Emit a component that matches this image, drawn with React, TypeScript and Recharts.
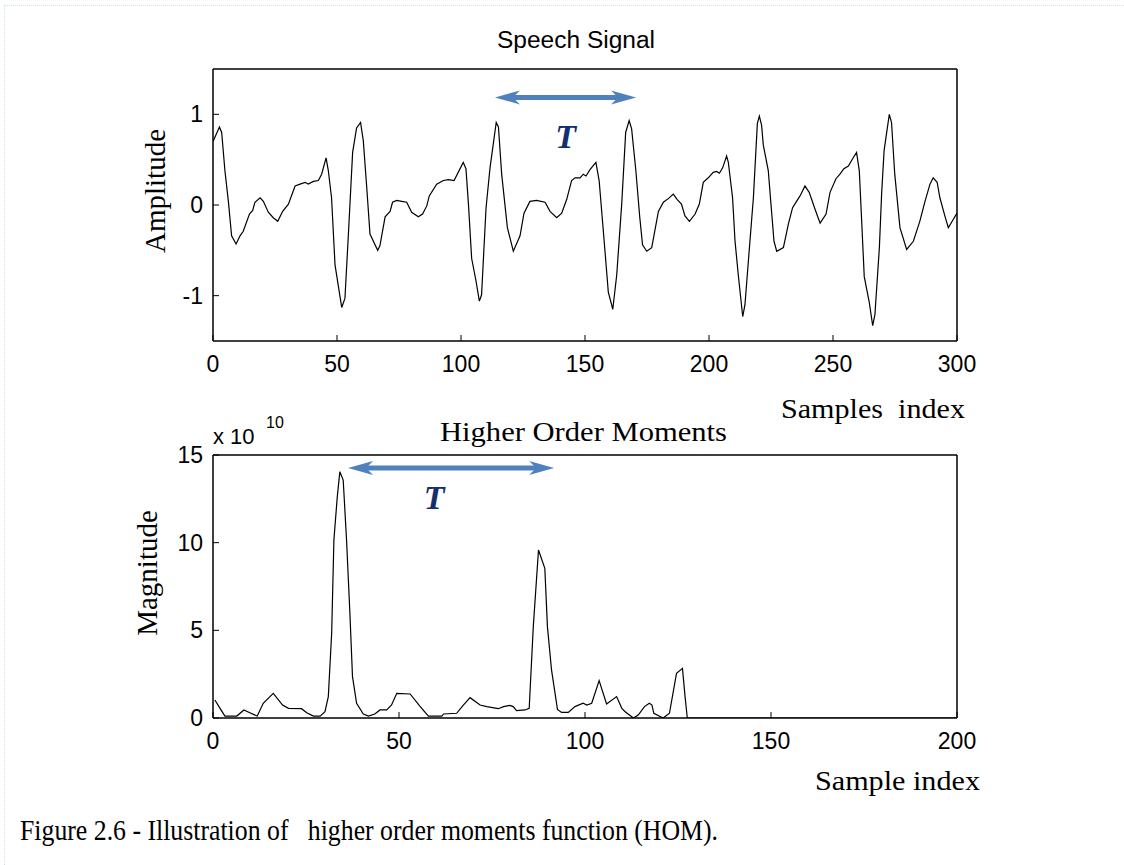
import { LineChart, Line, XAxis, YAxis, ReferenceLine } from 'recharts'

// speech waveform: sample index -> amplitude
const SPEECH_IDX = [
  0, 2.6, 3.5, 4.8, 6.2, 7.5, 9.3, 10.9, 12.2, 14.7, 16, 16.9, 19, 20.3, 22.3, 24.3, 26.1, 28.1, 30.4, 33.1,
  35.1, 37.1, 38.4, 40.5, 42.5, 43.8, 45.6, 46.5, 47.8, 49.2, 51.9, 53.2, 54.6, 56.3, 57.9, 59.5, 60.6, 62, 63.3,
  66.4, 67.3, 69.4, 71.4, 72.4, 74.1, 76.1, 78.1, 80.1, 82.8, 84.5, 86.2, 87.2, 90.2, 92.9, 94.9, 97.2, 100.9,
  102, 103, 104.3, 106, 107.4, 108.3, 110.1, 111.7, 114.2, 115.1, 116.4, 118.7, 121.1, 123.8, 125.4, 127.8,
  130.5, 133.9, 135.9, 138.6, 140.6, 142.6, 144.6, 146, 148, 149.3, 150.4, 152, 154.4, 155.7, 157.4, 159.4,
  161.2, 162.8, 164.8, 166.4, 167.8, 168.8, 170.5, 172.1, 173.2, 174.9, 176.9, 179.6, 181.6, 183.6, 185.6,
  187.2, 188.9, 190.3, 192.1, 194.4, 196.1, 197.7, 199.7, 201.7, 203.1, 204.2, 205.5, 207.1, 207.8, 209.5,
  210.5, 211.8, 213.6, 214.5, 216.3, 217.9, 219.5, 220.3, 221.2, 221.9, 223.9, 224.9, 226.2, 227.3, 230, 232,
  233.7, 235.3, 236.7, 238.7, 240.4, 242.8, 244.8, 247.2, 248.8, 251.2, 252.8, 254.4, 256.2, 257.9, 259.5,
  260.6, 261.5, 262.6, 264.6, 266, 266.9, 268.7, 269.6, 270.6, 272.7, 273.6, 274.9, 277, 279.7, 282.4, 285,
  287.1, 289.1, 290.4, 292, 293.1, 295.1, 296.5, 297.4, 300,
]
const SPEECH_AMP = [
  0.7, 0.86, 0.8, 0.38, 0.04, -0.34, -0.43, -0.34, -0.29, -0.1, -0.06, 0.03, 0.08, 0.04, -0.08, -0.14, -0.18, -0.07, 0.01, 0.21,
  0.23, 0.25, 0.23, 0.26, 0.27, 0.34, 0.52, 0.38, 0.08, -0.66, -1.13, -1.03, -0.32, 0.58, 0.85, 0.91, 0.71, 0.19, -0.32,
  -0.5, -0.45, -0.13, -0.07, 0.03, 0.05, 0.04, 0.03, -0.08, -0.13, -0.1, -0.01, 0.1, 0.23, 0.27, 0.28, 0.27, 0.47,
  0.4, 0.01, -0.59, -0.83, -1.06, -0.99, -0.03, 0.41, 0.91, 0.86, 0.34, -0.25, -0.51, -0.34, -0.09, 0.04,
  0.05, 0.03, -0.07, -0.14, -0.09, 0.06, 0.27, 0.3, 0.3, 0.34, 0.32, 0.39, 0.47, 0.27, -0.29, -0.96,
  -1.15, -0.77, 0.01, 0.8, 0.93, 0.84, 0.38, -0.14, -0.44, -0.51, -0.47, -0.07, 0.03, 0.07, 0.12,
  0.06, 0.01, -0.12, -0.18, -0.1, 0.01, 0.25, 0.3, 0.36, 0.37, 0.35, 0.41, 0.54, 0.47, 0.08,
  -0.4, -0.77, -1.23, -1.1, -0.47, 0.08, 0.9, 0.98, 0.88, 0.66, 0.38, 0.04, -0.4, -0.51, -0.47, -0.21,
  -0.03, 0.04, 0.1, 0.21, 0.14, -0.05, -0.2, -0.1, 0.14, 0.29, 0.34, 0.4, 0.43, 0.51, 0.58,
  0.38, -0.14, -0.79, -1.07, -1.33, -1.21, -0.47, 0.12, 0.6, 1.0, 0.91, 0.34, -0.25, -0.49, -0.4, -0.18,
  0.04, 0.23, 0.3, 0.25, 0.08, -0.12, -0.25, -0.21, -0.09,
]

// higher order moments, magnitude in units of 1e10
const HOM_IDX = [
  0.5, 1.9, 3.2, 6.4, 8.3, 9.9, 11.9, 13.5, 16.2, 18.7, 20.3, 23.8, 25.2, 27, 28.8, 30.1, 31, 31.9, 32.5, 33.4,
  34.1, 35, 35.9, 36.8, 37.5, 38.6, 40.4, 41.8, 43.5, 44.9, 46.7, 48, 49.4, 53, 55.6, 57.9, 61.5, 62, 65.5,
  67.3, 69.1, 71.8, 73.6, 76.7, 78.1, 79.8, 80.7, 81.6, 83.9, 85, 86.1, 87.5, 89.2, 89.9, 91, 92.6, 93.7,
  95.5, 97.3, 99.5, 100.5, 101.8, 103.8, 105.8, 108.5, 109.9, 110.8, 113, 114.3, 116, 117.3, 118, 118.5,
  121, 122.7, 124.6, 126.2, 126.9, 127.5, 200,
]
const HOM_MAG = [
  1.03, 0.55, 0.11, 0.11, 0.46, 0.3, 0.11, 0.84, 1.41, 0.74, 0.55, 0.53, 0.3, 0.11, 0.11, 0.36, 1.22, 4.83, 10.15, 12.6,
  14.05, 13.57, 10.15, 5.97, 2.36, 0.84, 0.23, 0.11, 0.23, 0.46, 0.46, 0.74, 1.41, 1.37, 0.68, 0.11, 0.11, 0.23, 0.27,
  0.74, 1.16, 0.74, 0.65, 0.53, 0.65, 0.72, 0.65, 0.42, 0.46, 0.55, 5.21, 9.58, 8.54, 5.21, 2.74, 0.49, 0.32,
  0.32, 0.65, 0.84, 0.74, 0.84, 2.13, 0.8, 1.22, 0.55, 0.36, 0, 0.17, 0.65, 0.84, 0.74, 0.27,
  0, 0.27, 2.55, 2.83, 1.22, 0, 0,
]

const SPEECH_X_TICKS = [0, 50, 100, 150, 200, 250, 300]
const SPEECH_Y_TICKS = [-1, 0, 1]
const HOM_X_TICKS = [0, 50, 100, 150, 200]
const HOM_Y_TICKS = [0, 5, 10, 15]

// pitch period markers: [start, end] sample and height on the value axis
const SPEECH_PERIOD = [113.7, 170.6]
const SPEECH_PERIOD_Y = 1.186
const HOM_PERIOD = [36.3, 91.7]
const HOM_PERIOD_Y = 14.26

const speechData = SPEECH_IDX.map((x, i) => ({ x, y: SPEECH_AMP[i] }))
const homData = HOM_IDX.map((x, i) => ({ x, y: HOM_MAG[i] }))

const SANS = '"Liberation Sans", Arial, sans-serif'
const SERIF = '"Liberation Serif", "Times New Roman", serif'
const ARROW = '#4f81bd'
const NAVY = '#12306e'

const tickStyle = { fill: '#000', fontSize: 23, fontFamily: SANS }
const frame = { stroke: '#000', strokeWidth: 1.5 }
const tickLine = { stroke: '#000', strokeWidth: 1 }

function PeriodArrow(props: any) {
  const { x1, x2, y1, dx, dy } = props
  const y = y1
  const len = 25
  const half = 7
  const notch = 7
  const left = `${x1},${y} ${x1 + len},${y - half} ${x1 + len - notch},${y} ${x1 + len},${y + half}`
  const right = `${x2},${y} ${x2 - len},${y - half} ${x2 - len + notch},${y} ${x2 - len},${y + half}`
  return (
    <g>
      <line x1={x1 + len - notch} x2={x2 - len + notch} y1={y} y2={y} stroke={ARROW} strokeWidth={5} />
      <polygon points={left} fill={ARROW} />
      <polygon points={right} fill={ARROW} />
      <text
        x={(x1 + x2) / 2 + dx}
        y={y + dy}
        textAnchor="middle"
        fontFamily={SERIF}
        fontStyle="italic"
        fontWeight="bold"
        fontSize={34}
        fill={NAVY}
      >
        T
      </text>
    </g>
  )
}

// box frame: the bottom/left axes carry the labels, top/right only the inward ticks
function Frame({ xDomain, xTicks, yDomain, yTicks }: any) {
  return (
    <>
      <XAxis
        xAxisId="top"
        orientation="top"
        type="number"
        domain={xDomain}
        ticks={xTicks}
        interval={0}
        allowDataOverflow
        height={1}
        tickSize={-6}
        tick={false}
        axisLine={frame}
        tickLine={tickLine}
      />
      <YAxis
        yAxisId="right"
        orientation="right"
        type="number"
        domain={yDomain}
        ticks={yTicks}
        interval={0}
        allowDataOverflow
        width={1}
        tickSize={-6}
        tick={false}
        axisLine={frame}
        tickLine={tickLine}
      />
    </>
  )
}

function SpeechPlot() {
  return (
    <LineChart width={1124} height={400} margin={{ top: 68, right: 166, bottom: 19, left: 153 }} data={speechData}>
      <XAxis
        dataKey="x"
        type="number"
        domain={[0, 300]}
        ticks={SPEECH_X_TICKS}
        interval={0}
        allowDataOverflow
        height={40}
        tickSize={-6}
        tickMargin={20.7}
        tick={tickStyle}
        axisLine={frame}
        tickLine={tickLine}
      />
      <YAxis
        type="number"
        domain={[-1.5, 1.5]}
        ticks={SPEECH_Y_TICKS}
        interval={0}
        allowDataOverflow
        width={60}
        tickSize={-6}
        tickMargin={16}
        tick={tickStyle}
        axisLine={frame}
        tickLine={tickLine}
      />
      {Frame({ xDomain: [0, 300], xTicks: SPEECH_X_TICKS, yDomain: [-1.5, 1.5], yTicks: SPEECH_Y_TICKS })}
      <Line dataKey="y" type="linear" stroke="#000" strokeWidth={1.2} dot={false} isAnimationActive={false} />
      <ReferenceLine
        segment={[
          { x: SPEECH_PERIOD[0], y: SPEECH_PERIOD_Y },
          { x: SPEECH_PERIOD[1], y: SPEECH_PERIOD_Y },
        ]}
        shape={(p: any) => <PeriodArrow {...p} dx={0} dy={51} />}
      />
    </LineChart>
  )
}

function HomPlot() {
  return (
    <LineChart width={1124} height={400} margin={{ top: 54, right: 166, bottom: 42, left: 153 }} data={homData}>
      <XAxis
        dataKey="x"
        type="number"
        domain={[0, 200]}
        ticks={HOM_X_TICKS}
        interval={0}
        allowDataOverflow
        height={40}
        tickSize={-6}
        tickMargin={20.7}
        tick={tickStyle}
        axisLine={frame}
        tickLine={tickLine}
      />
      <YAxis
        type="number"
        domain={[0, 15]}
        ticks={HOM_Y_TICKS}
        interval={0}
        allowDataOverflow
        width={60}
        tickSize={-6}
        tickMargin={16}
        tick={tickStyle}
        axisLine={frame}
        tickLine={tickLine}
      />
      {Frame({ xDomain: [0, 200], xTicks: HOM_X_TICKS, yDomain: [0, 15], yTicks: HOM_Y_TICKS })}
      <Line dataKey="y" type="linear" stroke="#000" strokeWidth={1.2} dot={false} isAnimationActive={false} />
      <ReferenceLine
        segment={[
          { x: HOM_PERIOD[0], y: HOM_PERIOD_Y },
          { x: HOM_PERIOD[1], y: HOM_PERIOD_Y },
        ]}
        shape={(p: any) => <PeriodArrow {...p} dx={-17} dy={41} />}
      />
    </LineChart>
  )
}

export default function App() {
  return (
    <div style={{ position: 'absolute', left: 0, top: 0, width: 1124, height: 865, background: '#fff', overflow: 'hidden' }}>
      <div
        style={{
          position: 'absolute',
          left: 4,
          top: 5,
          right: -2,
          bottom: -2,
          borderLeft: '1px dotted #cfe2ec',
          borderTop: '1px dotted #cfe2ec',
        }}
      />
      <div style={{ position: 'absolute', left: 0, top: 0 }}>
        <SpeechPlot />
      </div>
      <div style={{ position: 'absolute', left: 0, top: 400 }}>
        <HomPlot />
      </div>
      {/* titles, axis names and caption */}
      <svg width={1124} height={865} style={{ position: 'absolute', left: 0, top: 0, pointerEvents: 'none' }}>
        <text x={576} y={48} textAnchor="middle" fontFamily={SANS} fontSize={23} textLength={158} lengthAdjust="spacingAndGlyphs">
          Speech Signal
        </text>
        <text transform="translate(165,191) rotate(-90)" textAnchor="middle" fontFamily={SERIF} fontSize={29}>
          Amplitude
        </text>
        <text x={781} y={418} fontFamily={SERIF} fontSize={27} textLength={184} lengthAdjust="spacingAndGlyphs" style={{ whiteSpace: 'pre' }}>
          Samples  index
        </text>
        <text x={213} y={444} fontFamily={SANS} fontSize={22}>
          x 10
        </text>
        <text x={266} y={428} fontFamily={SANS} fontSize={16}>
          10
        </text>
        <text x={440} y={441} fontFamily={SERIF} fontSize={27} textLength={287} lengthAdjust="spacingAndGlyphs">
          Higher Order Moments
        </text>
        <text transform="translate(157,573) rotate(-90)" textAnchor="middle" fontFamily={SERIF} fontSize={29}>
          Magnitude
        </text>
        <text x={815} y={790} fontFamily={SERIF} fontSize={27} textLength={165} lengthAdjust="spacingAndGlyphs">
          Sample index
        </text>
        <text x={20} y={840} fontFamily={SERIF} fontSize={29} textLength={698} lengthAdjust="spacingAndGlyphs" style={{ whiteSpace: 'pre' }}>
          Figure 2.6 - Illustration of   higher order moments function (HOM).
        </text>
      </svg>
    </div>
  )
}
